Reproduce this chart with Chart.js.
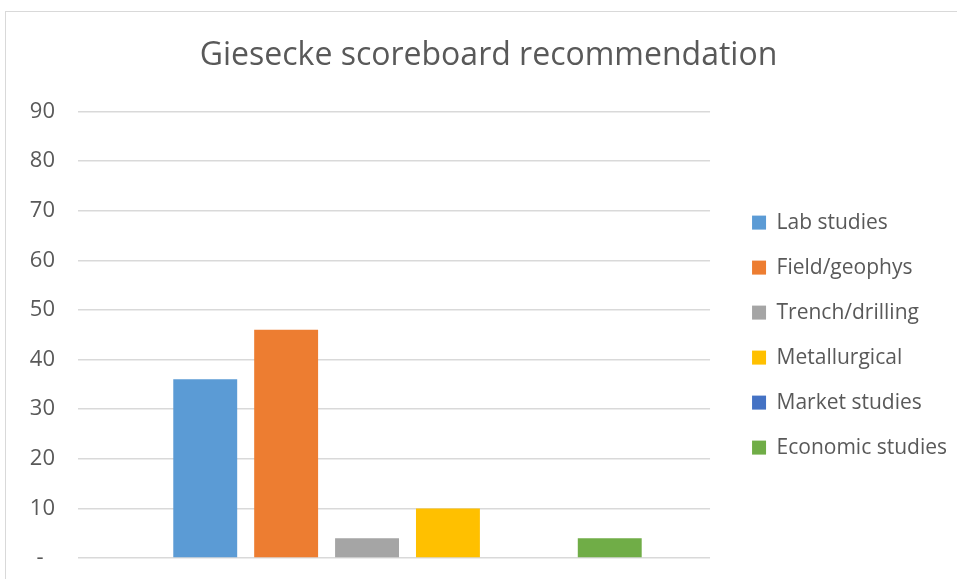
<!DOCTYPE html>
<html>
<head>
<meta charset="utf-8">
<script src="https://cdn.jsdelivr.net/npm/chart.js@4"></script>
<style>
  html, body { margin: 0; padding: 0; background: #fff; overflow: hidden; }
  .frame { position: absolute; left: 5px; top: 11px; width: 970px; height: 580px; border: 1px solid #d9d9d9; }
  .chart-box { position: absolute; left: 0; top: 0; width: 957px; height: 579px; }
</style>
</head>
<body>
<div class="frame"></div>
<div class="chart-box"><canvas id="scoreChart"></canvas></div>
<script>
const categories = [''];
const seriesNames = ['Lab studies', 'Field/geophys', 'Trench/drilling', 'Metallurgical', 'Market studies', 'Economic studies'];
const seriesValues = [36, 46, 4, 10, 0, 4];
const seriesColors = ['#5b9bd5', '#ed7d31', '#a5a5a5', '#ffc000', '#4472c4', '#70ad47'];
const yTicks = [0, 10, 20, 30, 40, 50, 60, 70, 80, 90];

const FONT = "'Open Sans', sans-serif";
const TEXT_COLOR = '#595959';

const datasets = seriesNames.map(function (name, i) {
  return {
    label: name,
    data: [seriesValues[i]],
    backgroundColor: seriesColors[i],
    borderWidth: 0,
    barPercentage: 0.79,
    categoryPercentage: 0.768
  };
});

const ctx = document.getElementById('scoreChart').getContext('2d');
new Chart(ctx, {
  type: 'bar',
  data: { labels: categories, datasets: datasets },
  options: {
    responsive: true,
    maintainAspectRatio: false,
    animation: false,
    layout: { padding: { left: 20, right: 0, top: 12, bottom: 21 } },
    plugins: {
      title: {
        display: true,
        text: 'Giesecke scoreboard recommendation',
        color: TEXT_COLOR,
        font: { family: FONT, size: 32, weight: 'normal' },
        padding: { top: 25, bottom: 36 }
      },
      legend: {
        position: 'right',
        maxWidth: 240,
        title: {
          display: true,
          text: ' ',
          font: { size: 1 },
          padding: { top: 0, bottom: 99 }
        },
        labels: {
          color: TEXT_COLOR,
          font: { family: FONT, size: 21 },
          boxWidth: 14,
          boxHeight: 14,
          padding: 24
        }
      },
      tooltip: { enabled: false }
    },
    scales: {
      x: {
        display: false,
        // bars sit a little right of centre in the original
        afterDataLimits: function (scale) { scale.min = -0.0213; }
      },
      y: {
        min: 0,
        max: 90,
        afterBuildTicks: function (scale) {
          scale.ticks = yTicks.map(function (v) { return { value: v }; });
        },
        afterFit: function (scale) {
          scale.width = 58;
          scale.paddingBottom = 0;
        },
        border: { display: false },
        grid: { color: '#d9d9d9', lineWidth: 1.5, drawTicks: false },
        ticks: {
          color: TEXT_COLOR,
          font: { family: FONT, size: 22 },
          padding: 23,
          callback: function (value) {
            return value === 0 ? '-  ' : value;
          }
        }
      },
      // empty spacer between plot and legend
      gap: {
        type: 'linear',
        position: 'right',
        display: true,
        border: { display: false },
        grid: { display: false, drawTicks: false },
        ticks: { display: false },
        afterFit: function (scale) { scale.width = 18; }
      }
    }
  }
});
</script>
</body>
</html>
